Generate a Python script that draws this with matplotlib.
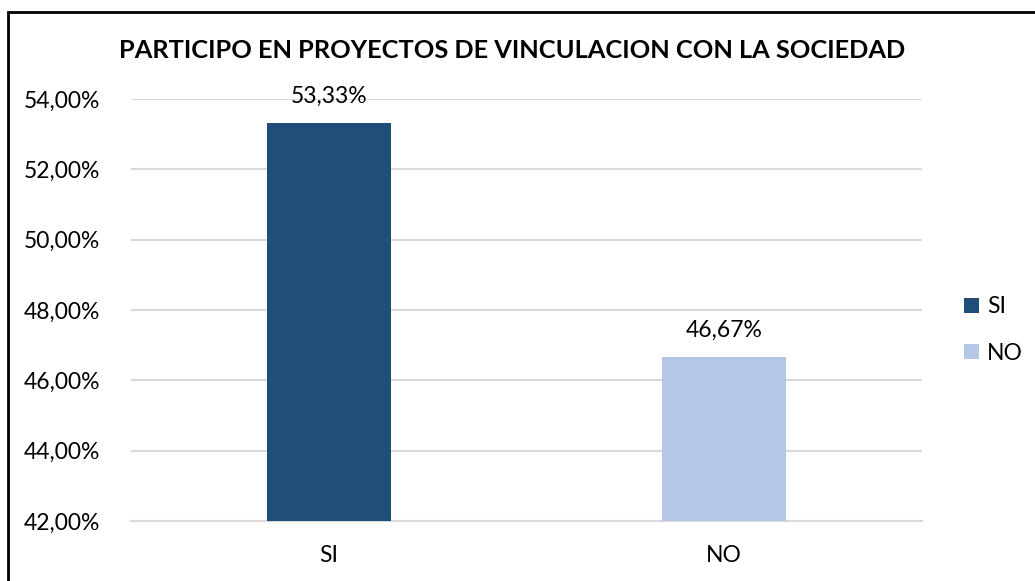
import matplotlib
matplotlib.use("Agg")
import matplotlib.pyplot as plt
from matplotlib.patches import Rectangle, Patch

categories = ["SI", "NO"]
values = [53.33, 46.67]
colors = ["#1F4E79", "#B4C7E7"]
yticks = [42, 44, 46, 48, 50, 52, 54]
title = "PARTICIPO EN PROYECTOS DE VINCULACION CON LA SOCIEDAD"

plt.rcParams['font.family'] = ['Lato', 'DejaVu Sans']

W, H = 1035, 581
fig = plt.figure(figsize=(W / 100, H / 100), dpi=100)

# outer frame (top/left visible)
fig.patches.append(Rectangle((8 / W, -0.1), 1.2, 1 - 12 / H + 0.1, transform=fig.transFigure,
                             fill=False, edgecolor="black", linewidth=2))

ax_l, ax_r = 131, 922
ax_t, ax_b = 99, 521
ax = fig.add_axes([ax_l / W, 1 - ax_b / H, (ax_r - ax_l) / W, (ax_b - ax_t) / H])

x = range(len(categories))
bars = ax.bar(x, values, width=124 / 396, color=colors, zorder=3)
ax.set_xlim(-0.5, 1.5)
ax.set_ylim(42, 54)
ax.set_yticks(yticks)
ax.set_yticklabels([f"{v:.2f}%".replace(".", ",") for v in yticks], fontsize=16.5)
ax.set_xticks(list(x))
ax.set_xticklabels(categories, fontsize=16.5)
ax.tick_params(length=0)
ax.tick_params(axis='x', pad=17)
ax.tick_params(axis='y', pad=22)
ax.grid(axis='y', color="#D9D9D9", linewidth=1.5, zorder=0)
for s in ["top", "right", "left"]:
    ax.spines[s].set_visible(False)
ax.spines["bottom"].set_color("#D9D9D9")
ax.spines["bottom"].set_linewidth(1.5)

for xi, v in zip(x, values):
    ax.annotate(f"{v:.2f}%".replace(".", ","), (xi, v), xytext=(0, 19), textcoords="offset points",
                ha="center", va="center", fontsize=16.5)

fig.text(512 / W, 1 - 50 / H, title, ha="center", va="center", fontsize=18.3, fontweight="bold")

handles = [Patch(facecolor=c, edgecolor="none") for c in colors]
fig.legend(handles, categories, loc="center left", bbox_to_anchor=(964 / W, 1 - 330 / H),
           frameon=False, fontsize=16.5, handlelength=0.65, handleheight=0.65, handletextpad=0.35,
           labelspacing=1.1, borderpad=0, borderaxespad=0)

fig.savefig("out.png", dpi=100)
